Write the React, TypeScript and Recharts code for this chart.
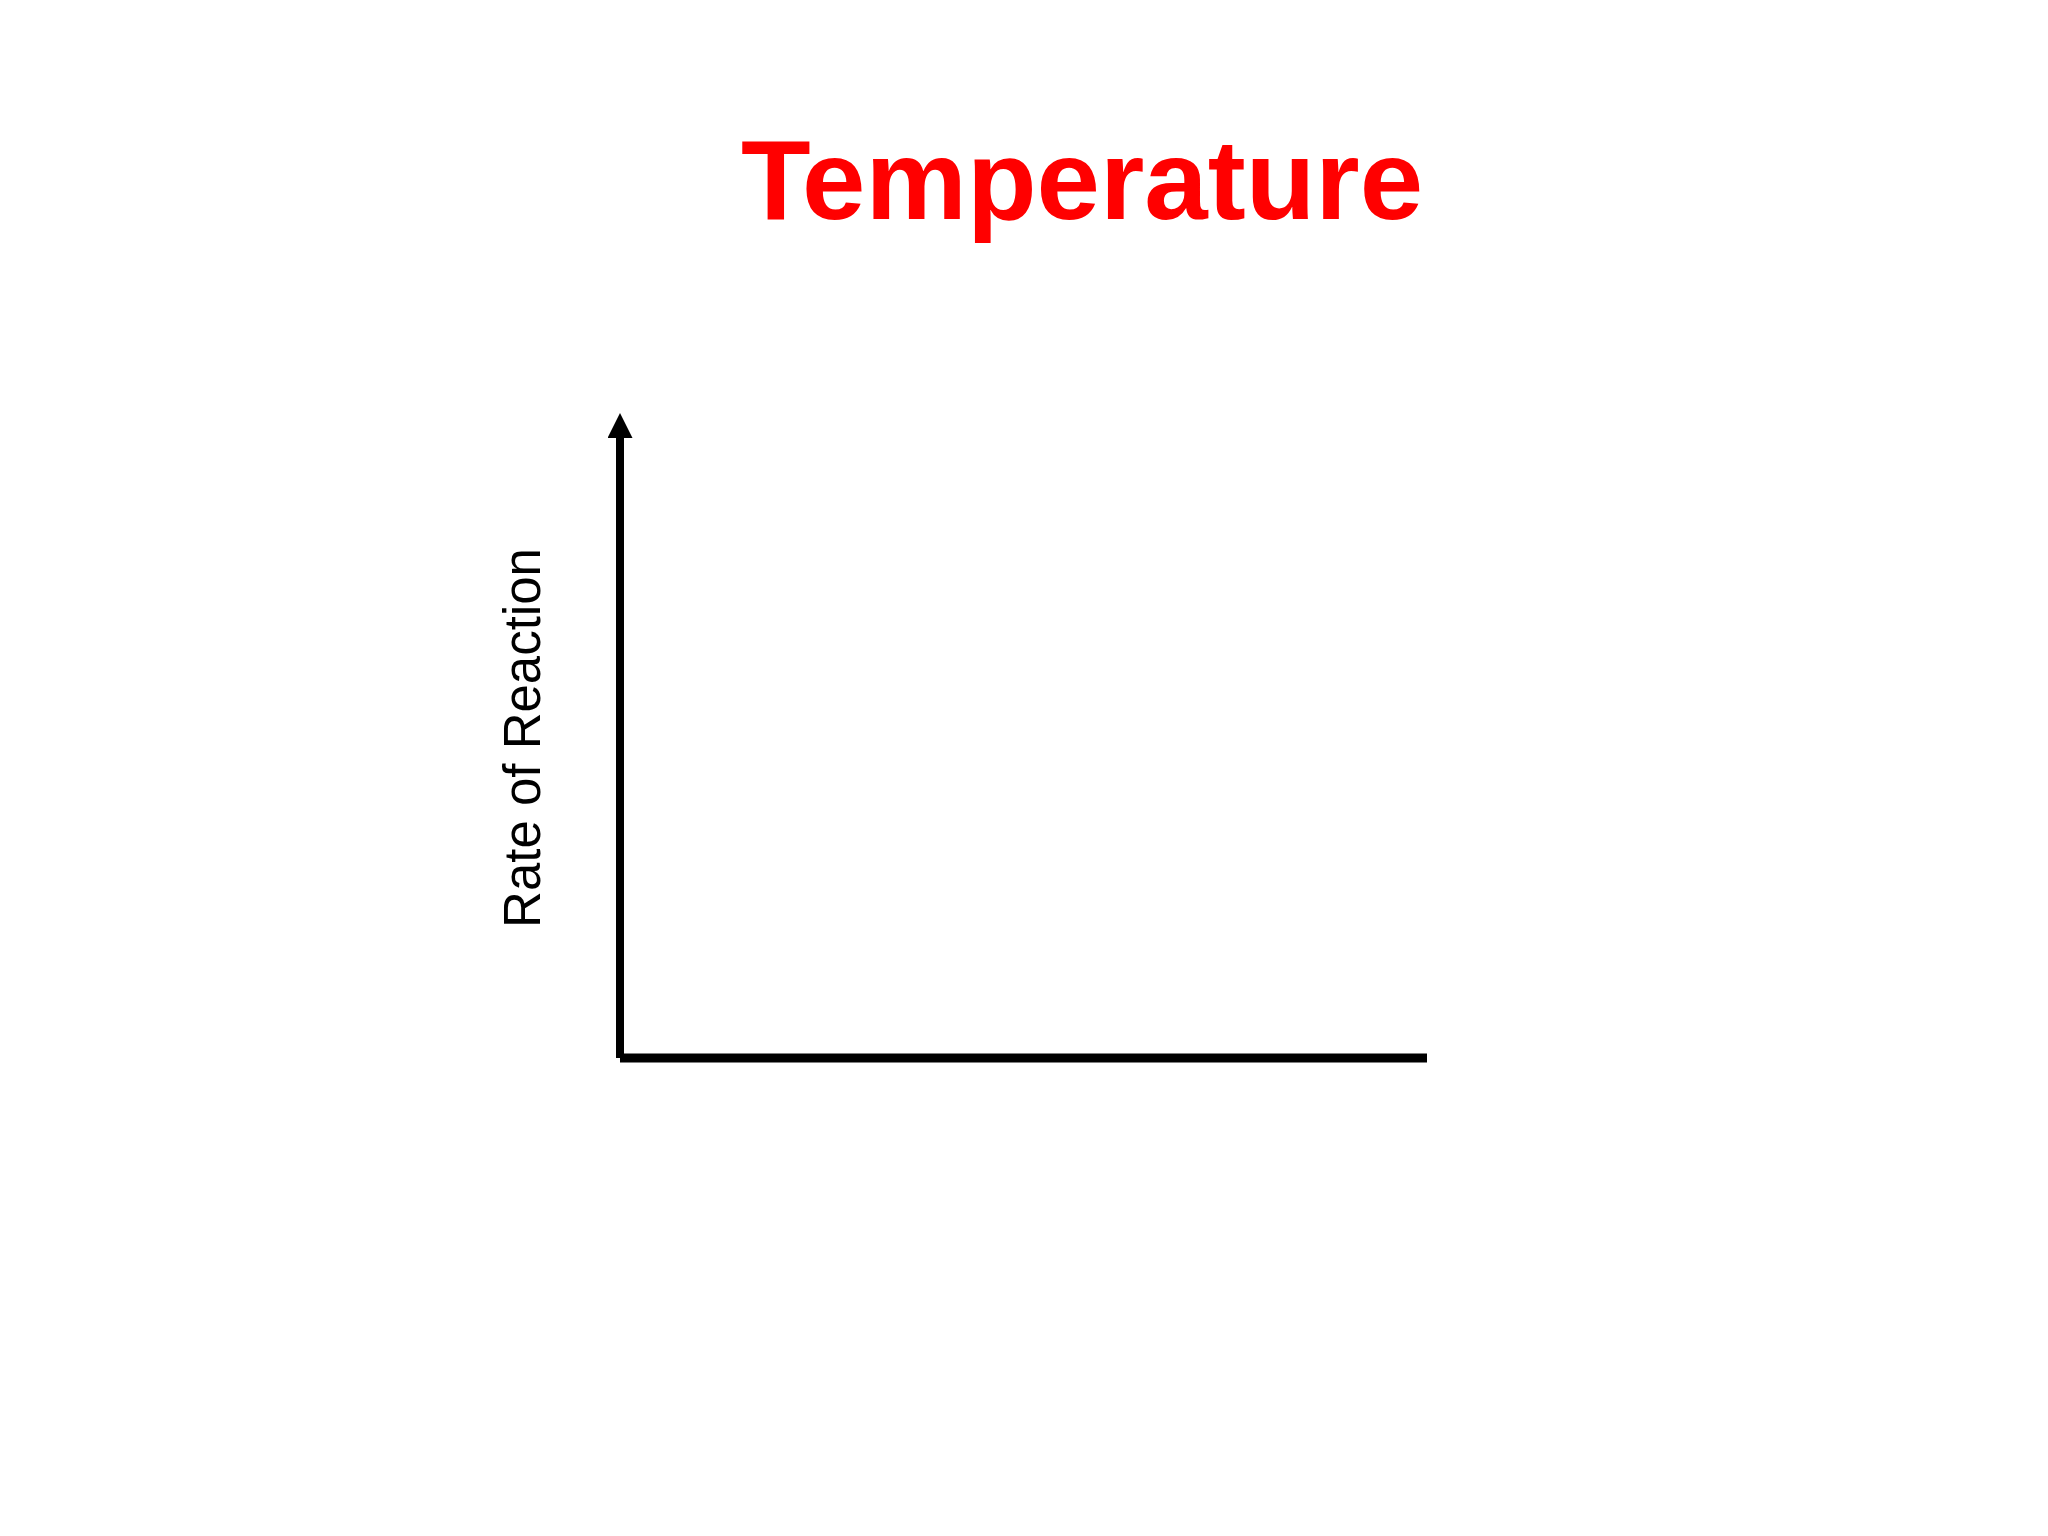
import { ComposedChart, Line, XAxis, YAxis } from 'recharts';

// empty sketch chart: temperature vs rate of reaction, no data plotted yet
const temperatures = [0, 20, 40, 60, 80, 100];
const rates: (number | null)[] = [null, null, null, null, null, null];

const chartTitle = 'Temperature';
const yAxisTitle = 'Rate of Reaction';

const data = temperatures.map((t, i) => ({ temperature: t, rate: rates[i] }));

const YTitle = () => (
  <text
    x={540}
    y={738}
    transform="rotate(-90, 540, 738)"
    textAnchor="middle"
    fontFamily="'Liberation Sans', Arial, sans-serif"
    fontSize={51}
    fill="#000"
  >
    {yAxisTitle}
  </text>
);

export default function App() {
  return (
    <div style={{ position: 'absolute', left: 0, top: 0, width: 2048, height: 1536, background: '#fff' }}>
      <ComposedChart
        width={2048}
        height={1536}
        data={data}
        margin={{ top: 438, right: 621, bottom: 448, left: 520 }}
      >
        <defs>
          <marker
            id="axisArrow"
            markerUnits="userSpaceOnUse"
            markerWidth={26}
            markerHeight={26}
            refX={0}
            refY={12.5}
            orient="auto-start-reverse"
          >
            <path d="M0,0 L25,12.5 L0,25 z" fill="#000" />
          </marker>
        </defs>
        <text
          x={1082}
          y={219}
          textAnchor="middle"
          fontFamily="'Liberation Sans', Arial, sans-serif"
          fontWeight="bold"
          fontSize={114}
          fill="#ff0000"
        >
          {chartTitle}
        </text>
        <XAxis
          dataKey="temperature"
          type="number"
          domain={[0, 100]}
          height={30}
          tick={false}
          tickLine={false}
          axisLine={{ stroke: '#000', strokeWidth: 9 }}
        />
        <YAxis
          type="number"
          domain={[0, 100]}
          width={100}
          tick={false}
          tickLine={false}
          axisLine={{ stroke: '#000', strokeWidth: 8, markerStart: 'url(#axisArrow)' }}
          label={<YTitle />}
        />
        <Line dataKey="rate" stroke="#000" dot={false} isAnimationActive={false} />
      </ComposedChart>
    </div>
  );
}
